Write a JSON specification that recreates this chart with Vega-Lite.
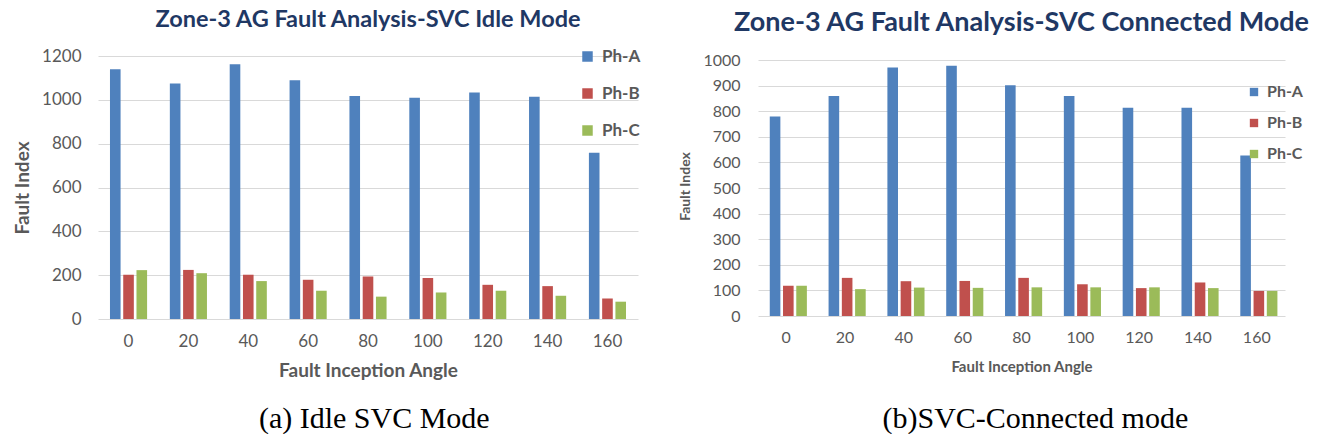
{
  "$schema": "https://vega.github.io/schema/vega-lite/v6.json",
  "padding": {"left": 13, "top": 7, "right": 0, "bottom": 0},
  "background": "white",
  "config": {
    "view": {"stroke": null},
    "font": "Lato",
    "axis": {"labelColor": "#595959", "titleColor": "#595959", "titleFontWeight": "bold", "ticks": false, "domain": false, "gridColor": "#D9D9D9", "gridWidth": 1},
    "axisX": {"grid": false, "labelAngle": 0},
    "legend": {"padding": 0, "title": null}
  },
  "datasets": {
    "idle": [
      {"angle": 0, "phase": "Ph-A", "value": 1140}, {"angle": 0, "phase": "Ph-B", "value": 202}, {"angle": 0, "phase": "Ph-C", "value": 223},
      {"angle": 20, "phase": "Ph-A", "value": 1075}, {"angle": 20, "phase": "Ph-B", "value": 224}, {"angle": 20, "phase": "Ph-C", "value": 209},
      {"angle": 40, "phase": "Ph-A", "value": 1162}, {"angle": 40, "phase": "Ph-B", "value": 202}, {"angle": 40, "phase": "Ph-C", "value": 173},
      {"angle": 60, "phase": "Ph-A", "value": 1089}, {"angle": 60, "phase": "Ph-B", "value": 179}, {"angle": 60, "phase": "Ph-C", "value": 129},
      {"angle": 80, "phase": "Ph-A", "value": 1017}, {"angle": 80, "phase": "Ph-B", "value": 194}, {"angle": 80, "phase": "Ph-C", "value": 102},
      {"angle": 100, "phase": "Ph-A", "value": 1010}, {"angle": 100, "phase": "Ph-B", "value": 187}, {"angle": 100, "phase": "Ph-C", "value": 121},
      {"angle": 120, "phase": "Ph-A", "value": 1033}, {"angle": 120, "phase": "Ph-B", "value": 156}, {"angle": 120, "phase": "Ph-C", "value": 129},
      {"angle": 140, "phase": "Ph-A", "value": 1014}, {"angle": 140, "phase": "Ph-B", "value": 150}, {"angle": 140, "phase": "Ph-C", "value": 106},
      {"angle": 160, "phase": "Ph-A", "value": 759}, {"angle": 160, "phase": "Ph-B", "value": 94}, {"angle": 160, "phase": "Ph-C", "value": 79}
    ],
    "connected": [
      {"angle": 0, "phase": "Ph-A", "value": 780}, {"angle": 0, "phase": "Ph-B", "value": 118}, {"angle": 0, "phase": "Ph-C", "value": 118},
      {"angle": 20, "phase": "Ph-A", "value": 860}, {"angle": 20, "phase": "Ph-B", "value": 149}, {"angle": 20, "phase": "Ph-C", "value": 105},
      {"angle": 40, "phase": "Ph-A", "value": 971}, {"angle": 40, "phase": "Ph-B", "value": 136}, {"angle": 40, "phase": "Ph-C", "value": 111},
      {"angle": 60, "phase": "Ph-A", "value": 978}, {"angle": 60, "phase": "Ph-B", "value": 137}, {"angle": 60, "phase": "Ph-C", "value": 110},
      {"angle": 80, "phase": "Ph-A", "value": 902}, {"angle": 80, "phase": "Ph-B", "value": 149}, {"angle": 80, "phase": "Ph-C", "value": 112},
      {"angle": 100, "phase": "Ph-A", "value": 860}, {"angle": 100, "phase": "Ph-B", "value": 124}, {"angle": 100, "phase": "Ph-C", "value": 112},
      {"angle": 120, "phase": "Ph-A", "value": 814}, {"angle": 120, "phase": "Ph-B", "value": 109}, {"angle": 120, "phase": "Ph-C", "value": 112},
      {"angle": 140, "phase": "Ph-A", "value": 814}, {"angle": 140, "phase": "Ph-B", "value": 131}, {"angle": 140, "phase": "Ph-C", "value": 109},
      {"angle": 160, "phase": "Ph-A", "value": 627}, {"angle": 160, "phase": "Ph-B", "value": 98}, {"angle": 160, "phase": "Ph-C", "value": 98}
    ]
  },
  "spacing": 37,
  "hconcat": [
    {
      "title": {"text": "(a)  Idle SVC Mode", "orient": "bottom", "anchor": "middle", "dx": 47, "font": "Liberation Serif", "fontSize": 30, "fontWeight": "normal", "color": "#000000", "offset": 24},
      "vconcat": [
        {
          "data": {"name": "idle"},
          "width": 540,
          "height": 263,
          "title": {"text": "Zone-3 AG Fault Analysis-SVC Idle Mode", "font": "Lato", "fontSize": 23.5, "fontWeight": "bold", "color": "#1F3864", "offset": 16},
          "mark": {"type": "bar"},
          "encoding": {
            "x": {"field": "angle", "type": "ordinal", "scale": {"paddingInner": 0.38},
                  "axis": {"title": "Fault Inception Angle", "labelFontSize": 17, "labelPadding": 14, "titleFontSize": 19, "titlePadding": 12}},
            "xOffset": {"field": "phase", "scale": {"paddingInner": 0.2}},
            "y": {"field": "value", "type": "quantitative", "scale": {"domain": [0, 1200]},
                  "axis": {"title": "Fault Index", "format": "d", "values": [0, 200, 400, 600, 800, 1000, 1200], "labelFontSize": 17, "labelPadding": 17, "titleFontSize": 19, "titlePadding": 9}},
            "color": {"field": "phase", "type": "nominal",
                      "scale": {"domain": ["Ph-A", "Ph-B", "Ph-C"], "range": ["#4F81BD", "#C0504D", "#9BBB59"]},
                      "legend": {"orient": "none", "legendX": 481, "legendY": -8, "symbolType": "square", "symbolSize": 110, "symbolStrokeWidth": 0, "labelFontSize": 17, "labelFontWeight": "bold", "labelColor": "#595959", "labelOffset": 6, "rowPadding": 19}}
          }
        }
      ]
    },
    {
      "title": {"text": "(b)SVC-Connected mode", "orient": "bottom", "anchor": "middle", "dx": 41, "font": "Liberation Serif", "fontSize": 30, "fontWeight": "normal", "color": "#000000", "offset": 30},
      "vconcat": [
        {
          "data": {"name": "connected"},
          "width": 527,
          "height": 260,
          "title": {"text": "Zone-3 AG Fault Analysis-SVC Connected Mode", "font": "Lato", "fontSize": 27, "fontWeight": "bold", "color": "#1F3864", "offset": 15},
          "mark": {"type": "bar"},
          "encoding": {
            "x": {"field": "angle", "type": "ordinal", "scale": {"paddingInner": 0.44},
                  "axis": {"title": "Fault Inception Angle", "labelFontSize": 16, "labelPadding": 13, "titleFontSize": 15, "titlePadding": 14}},
            "xOffset": {"field": "phase", "scale": {"paddingInner": 0}},
            "y": {"field": "value", "type": "quantitative", "scale": {"domain": [0, 1016], "nice": false},
                  "axis": {"title": "Fault Index", "format": "d", "values": [0, 100, 200, 300, 400, 500, 600, 700, 800, 900, 1000], "labelFontSize": 16, "labelPadding": 18, "titleFontSize": 14, "titlePadding": 10}},
            "color": {"field": "phase", "type": "nominal",
                      "scale": {"domain": ["Ph-A", "Ph-B", "Ph-C"], "range": ["#4F81BD", "#C0504D", "#9BBB59"]},
                      "legend": {"orient": "none", "legendX": 488, "legendY": 28, "symbolType": "square", "symbolSize": 70, "symbolStrokeWidth": 0, "labelFontSize": 16, "labelFontWeight": "bold", "labelColor": "#595959", "labelOffset": 5, "rowPadding": 15}}
          }
        }
      ]
    }
  ],
  "resolve": {"scale": {"color": "independent"}, "legend": {"color": "independent"}}
}
